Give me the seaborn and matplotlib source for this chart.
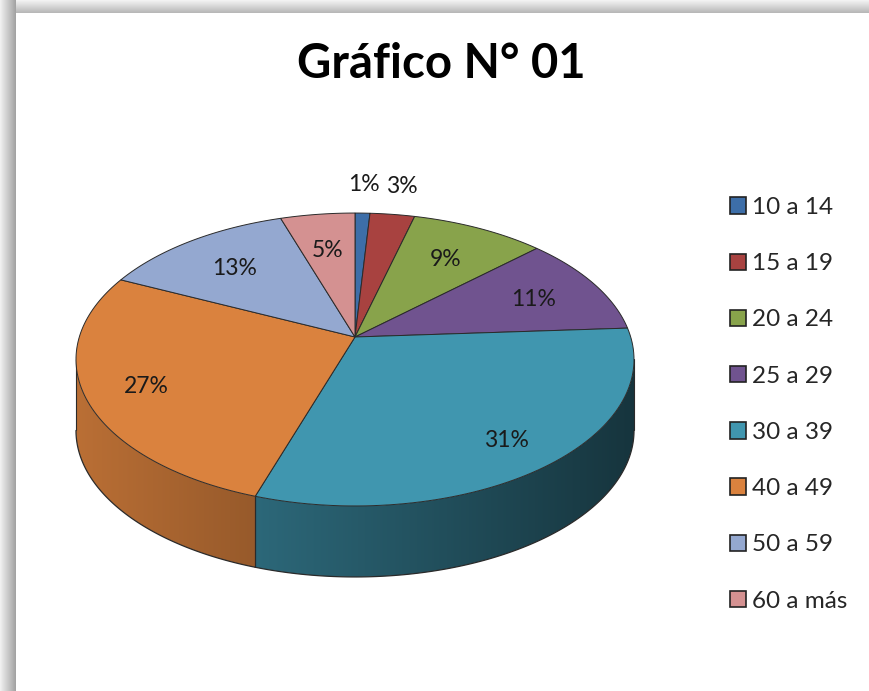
import numpy as np
import matplotlib.pyplot as plt
import seaborn as sns
from matplotlib.patches import Polygon, Rectangle

sns.set_theme(style="white")
plt.rcParams['font.family'] = ['Lato', 'DejaVu Sans']

# datos del grafico
title = "Gráfico N° 01"
age_groups = ["10 a 14", "15 a 19", "20 a 24", "25 a 29",
              "30 a 39", "40 a 49", "50 a 59", "60 a más"]
shares = [1, 3, 9, 11, 31, 27, 13, 5]
colors = ["#3D6EA8", "#A84240", "#88A34B", "#70538F",
          "#4096AF", "#DA823E", "#94A8D0", "#D49191"]
palette = sns.color_palette(colors)

W, H = 869, 691
fig = plt.figure(figsize=(W / 100, H / 100), dpi=100, facecolor="white")
ax = fig.add_axes([0, 0, 1, 1])
ax.axis("off")

# sombra del marco (arriba e izquierda)
for i, g in enumerate(np.linspace(0.95, 0.72, 13)):
    ax.add_patch(Rectangle((0, i), W, 1, color=str(g), lw=0, zorder=0))
for i, g in enumerate(np.linspace(0.94, 0.64, 16)):
    ax.add_patch(Rectangle((i, 0), 1, H, color=str(g), lw=0, zorder=0))

# pastel 3D con perspectiva
cx, cy = 355, 337
rx, ry = 275.7, 143
k = 0.1536
depth = 71


def project(theta, r=1.0):
    t = np.radians(theta)
    u, v = r * np.sin(t), -r * np.cos(t)
    w = 1 / (1 - k * v)
    return cx + rx * u * w, cy + ry * v * w


total = sum(shares)
bounds = np.concatenate([[0], np.cumsum(shares)]) * 360 / total
lo = 90 + np.degrees(np.arcsin(k))
hi = 270 - np.degrees(np.arcsin(k))


def shade(c, x):
    f = 0.85 - 0.0009 * (x - 80)
    return np.clip(np.outer(f, np.array(c)), 0, 1)


edge = "#2a2a2a"

# pared lateral con degradado
for i, c in enumerate(palette):
    s, e = max(bounds[i], lo), min(bounds[i + 1], hi)
    if e <= s:
        continue
    ts = np.linspace(s, e, 120)
    xs, ys = project(ts)
    pts = list(zip(xs, ys)) + list(zip(xs[::-1], ys[::-1] + depth))
    wall = Polygon(pts, closed=True, fc="none", ec="none", zorder=2)
    ax.add_patch(wall)
    x0, x1 = xs.min() - 2, xs.max() + 2
    gx = np.linspace(x0, x1, 300)
    grad = shade(c, gx)[np.newaxis, :, :]
    im = ax.imshow(grad, extent=[x0, x1, ys.max() + depth + 2, ys.min() - 2],
                   aspect="auto", origin="upper", interpolation="bilinear", zorder=2)
    im.set_clip_path(wall)
    ax.plot(xs, ys + depth, color=edge, lw=0.9, zorder=3)
    for t in (s, e):
        px, py = project(t)
        ax.plot([px, px], [py, py + depth], color=edge, lw=0.8, zorder=3)

# cara superior
for i, c in enumerate(palette):
    ts = np.linspace(bounds[i], bounds[i + 1], 80)
    xs, ys = project(ts)
    pts = [(cx, cy)] + list(zip(xs, ys))
    ax.add_patch(Polygon(pts, closed=True, fc=c, ec=edge, lw=0.7, zorder=4))

# etiquetas de porcentaje
for i, p in enumerate(shares):
    mid = (bounds[i] + bounds[i + 1]) / 2
    v = -np.cos(np.radians(mid))
    r = 1.3 if p < 4 else 0.76 + 0.06 * v
    lx, ly = project(mid, r)
    ax.text(lx, ly + 9, f"{p}%", ha="center", va="baseline",
            fontsize=16.5, color="#1a1a1a", zorder=5)

ax.text(441, 78, title, ha="center", va="baseline",
        fontsize=34, fontweight="bold", color="black")

handles = [Rectangle((0, 0), 1, 1, fc=c, ec="#222222", lw=1.2) for c in palette]
ax.legend(handles, age_groups, loc="upper left",
          bbox_to_anchor=(730 / W, 1 - 197 / H), frameon=False,
          fontsize=17.5, handlelength=0.66, handleheight=0.66,
          handletextpad=0.25, labelspacing=1.45, borderpad=0, borderaxespad=0)

ax.set_xlim(0, W)
ax.set_ylim(H, 0)

fig.savefig("out.png", dpi=100, facecolor="white")
